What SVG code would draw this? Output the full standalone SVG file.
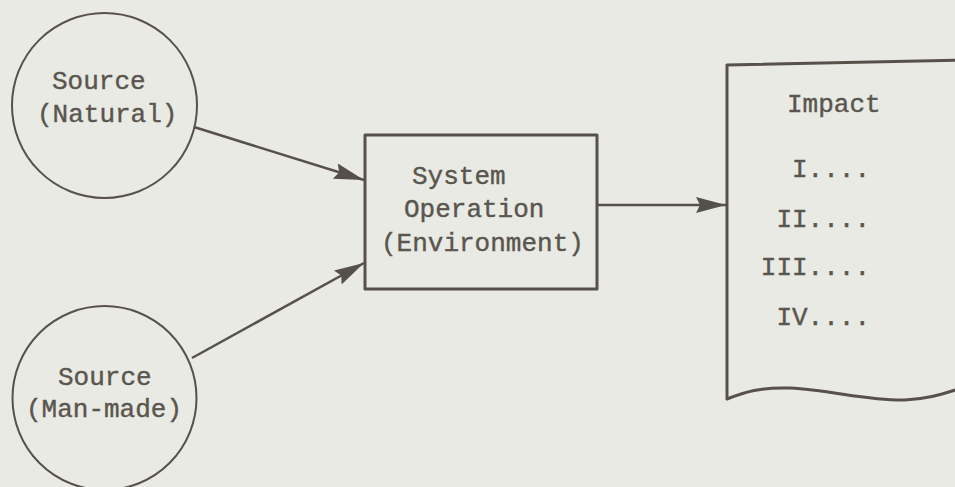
<svg xmlns="http://www.w3.org/2000/svg" width="955" height="487" viewBox="0 0 955 487">
<style>
.bg{fill:#e8eae3}
.ln{fill:none;stroke:#575149;stroke-linejoin:round}
.t{font-family:"Liberation Mono","Courier New",monospace;font-size:26px;fill:#5a554e;stroke:#5a554e;stroke-width:0.4}
</style>
<defs>
<marker id="ah" viewBox="0 0 30 16" refX="30" refY="8" markerWidth="30" markerHeight="16" markerUnits="userSpaceOnUse" orient="auto">
<path d="M0,0 L30,8 L0,16 L4,8 Z" fill="#55504a"/>
</marker>
</defs>
<rect class="bg" x="0" y="0" width="955" height="487"/>
<g id="connectors">
<line class="ln" stroke-width="2.5" x1="194" y1="127" x2="364" y2="180" marker-end="url(#ah)"/>
<line class="ln" stroke-width="2.5" x1="192" y1="358" x2="364" y2="263" marker-end="url(#ah)"/>
<line class="ln" stroke-width="2.5" x1="598" y1="205" x2="726" y2="205" marker-end="url(#ah)"/>
</g>
<g id="source-natural">
<circle class="ln" stroke-width="2" cx="104.5" cy="105.5" r="92.5"/>
<text class="t" x="52" y="89">Source</text>
<text class="t" x="37" y="122">(Natural)</text>
</g>
<g id="source-manmade">
<circle class="ln" stroke-width="2" cx="104.5" cy="398" r="92"/>
<text class="t" x="58" y="385">Source</text>
<text class="t" x="26" y="417">(Man-made)</text>
</g>
<g id="system">
<rect class="ln" stroke-width="3" x="365" y="135" width="232" height="154"/>
<text class="t" x="412" y="184">System</text>
<text class="t" x="404" y="217">Operation</text>
<text class="t" x="381" y="251">(Environment)</text>
</g>
<g id="impact">
<path class="ln" stroke-width="3" d="M962,60 L727,65 L727,399 C745,392 760,387 790,388 C830,390 870,401 905,400 C930,399 945,393 962,388"/>
<text class="t" x="787" y="112">Impact</text>
<text class="t" x="870" y="177" text-anchor="end">I....</text>
<text class="t" x="870" y="227" text-anchor="end">II....</text>
<text class="t" x="870" y="275" text-anchor="end">III....</text>
<text class="t" x="870" y="325" text-anchor="end">IV....</text>
</g>
</svg>
